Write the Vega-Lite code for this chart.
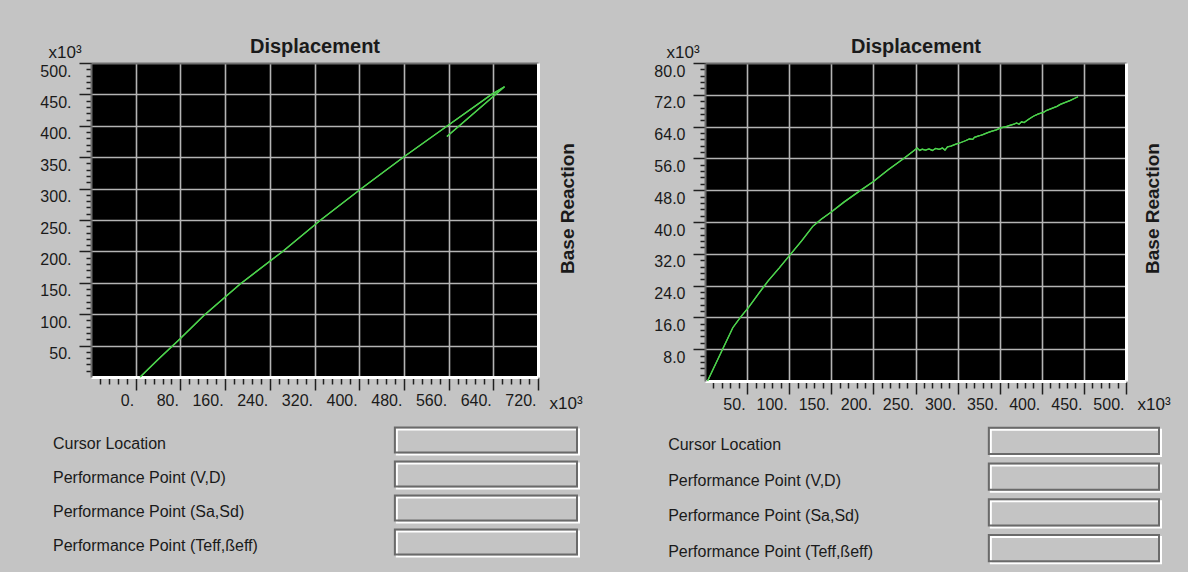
{
  "$schema": "https://vega.github.io/schema/vega-lite/v6.json",
  "background": "#c4c4c4",
  "padding": {"left": 39, "top": 36, "right": 24, "bottom": 5},
  "columns": 2,
  "bounds": "flush",
  "align": "each",
  "spacing": {"row": 43, "column": 127},
  "config": {
    "view": {"stroke": null},
    "font": "Liberation Sans",
    "axis": {
      "labelFont": "Liberation Sans",
      "labelFontSize": 16,
      "labelColor": "#1a1a1a",
      "titleFont": "Liberation Sans",
      "titleColor": "#1a1a1a",
      "labelOverlap": false,
      "labelFlush": false,
      "tickColor": "#202020",
      "tickWidth": 1.5,
      "gridColor": "#b4b4b4",
      "gridWidth": 1.6
    }
  },
  "concat": [
    {
      "width": 447,
      "height": 314,
      "view": {"fill": "#000000", "stroke": null},
      "data": {"values": [
        {"step": 0, "disp": 8, "base": 0},
        {"step": 1, "disp": 40, "base": 28},
        {"step": 2, "disp": 79, "base": 60.5},
        {"step": 3, "disp": 122, "base": 98},
        {"step": 4, "disp": 187, "base": 148},
        {"step": 5, "disp": 263, "base": 200},
        {"step": 6, "disp": 331, "base": 250},
        {"step": 7, "disp": 404, "base": 300},
        {"step": 8, "disp": 479, "base": 350},
        {"step": 9, "disp": 558, "base": 400},
        {"step": 10, "disp": 637, "base": 450},
        {"step": 11, "disp": 660, "base": 462},
        {"step": 12, "disp": 557, "base": 383}
      ]},
      "layer": [
        {
          "mark": {"type": "line", "color": "#4cd04c", "strokeWidth": 1.3},
          "encoding": {
            "x": {"field": "disp", "type": "quantitative", "scale": {"domain": [-80, 720], "nice": false, "zero": false},
              "axis": {
                "orient": "bottom",
                "values": [-64,-48,-32,-16,0,16,32,48,64,80,96,112,128,144,160,176,192,208,224,240,256,272,288,304,320,336,352,368,384,400,416,432,448,464,480,496,512,528,544,560,576,592,608,624,640,656,672,688,704,720],
                "labelExpr": "datum.value % 80 === 0 ? datum.value + '.' : ''",
                "labelAlign": "right", "labelBaseline": "top", "labelOffset": -2, "labelPadding": 2,
                "tickSize": {"condition": {"test": "datum.value % 80 === 0", "value": 13}, "value": 7},
                "domain": true, "domainColor": "#ffffff", "domainWidth": 3,
                "grid": true,
                "gridOpacity": {"condition": {"test": "datum.value % 80 === 0 && datum.value < 720", "value": 1}, "value": 0},
                "title": "x10³", "titleFontSize": 17, "titleFontWeight": "normal", "titleAngle": 0,
                "titleX": 458, "titleY": 31, "titleAlign": "left", "titleBaseline": "alphabetic"
              }},
            "y": {"field": "base", "type": "quantitative", "scale": {"domain": [0, 500], "nice": false},
              "axis": {
                "orient": "left",
                "values": [10,20,30,40,50,60,70,80,90,100,110,120,130,140,150,160,170,180,190,200,210,220,230,240,250,260,270,280,290,300,310,320,330,340,350,360,370,380,390,400,410,420,430,440,450,460,470,480,490,500],
                "labelExpr": "datum.value % 50 === 0 ? datum.value + '.' : ''",
                "labelAlign": "right", "labelBaseline": "top", "labelPadding": 8,
                "tickSize": {"condition": {"test": "datum.value % 50 === 0", "value": 12}, "value": 5},
                "domain": true, "domainColor": "#6e6e6e", "domainWidth": 2,
                "grid": true,
                "gridOpacity": {"condition": {"test": "datum.value % 50 === 0 && datum.value < 500", "value": 1}, "value": 0},
                "title": "x10³", "titleFontSize": 17, "titleFontWeight": "normal", "titleAngle": 0,
                "titleX": -43, "titleY": -6, "titleAlign": "left", "titleBaseline": "alphabetic"
              }},
            "order": {"field": "step", "type": "quantitative"}
          }
        },
        {
          "mark": {"type": "line", "color": "#4cd04c", "strokeWidth": 1.3},
          "encoding": {
            "x": {"field": "disp", "type": "quantitative", "scale": {"domain": [-80, 720], "nice": false, "zero": false},
              "axis": {
                "orient": "top", "labels": false, "ticks": false, "grid": false,
                "domain": true, "domainColor": "#6e6e6e", "domainWidth": 2,
                "title": "Displacement", "titleFontSize": 20, "titleFontWeight": "bold",
                "titleY": -11, "titleBaseline": "alphabetic"
              }},
            "y": {"field": "base", "type": "quantitative", "scale": {"domain": [0, 500], "nice": false},
              "axis": {
                "orient": "right", "labels": false, "ticks": false, "grid": false,
                "domain": true, "domainColor": "#ffffff", "domainWidth": 3,
                "title": "Base Reaction", "titleFontSize": 19, "titleFontWeight": "bold",
                "titleAngle": 270, "titleX": 35, "titleY": 145, "titleAlign": "center", "titleBaseline": "alphabetic"
              }},
            "order": {"field": "step", "type": "quantitative"}
          }
        }
      ],
      "resolve": {"axis": {"x": "independent", "y": "independent"}}
    },
    {
      "width": 421,
      "height": 318,
      "view": {"fill": "#000000", "stroke": null},
      "data": {"values": [
        {"step": 0, "disp": 3, "base": 0},
        {"step": 1, "disp": 33, "base": 13.4},
        {"step": 2, "disp": 42, "base": 16},
        {"step": 3, "disp": 52, "base": 18.6},
        {"step": 4, "disp": 63, "base": 21.8},
        {"step": 5, "disp": 75, "base": 25.2},
        {"step": 6, "disp": 88, "base": 28.4},
        {"step": 7, "disp": 100, "base": 31.5},
        {"step": 8, "disp": 115, "base": 35.3},
        {"step": 9, "disp": 128, "base": 38.9},
        {"step": 10, "disp": 138, "base": 40.7},
        {"step": 11, "disp": 150, "base": 42.5},
        {"step": 12, "disp": 165, "base": 45},
        {"step": 13, "disp": 183, "base": 47.7},
        {"step": 14, "disp": 200, "base": 50.2},
        {"step": 15, "disp": 218, "base": 53.2},
        {"step": 16, "disp": 236, "base": 56},
        {"step": 17, "disp": 246, "base": 57.6},
        {"step": 18, "disp": 252, "base": 58.6},
        {"step": 19, "disp": 255, "base": 58.0},
        {"step": 20, "disp": 258, "base": 58.3},
        {"step": 21, "disp": 262, "base": 58.1},
        {"step": 22, "disp": 266, "base": 58.4},
        {"step": 23, "disp": 270, "base": 58.0},
        {"step": 24, "disp": 274, "base": 58.5},
        {"step": 25, "disp": 278, "base": 58.3},
        {"step": 26, "disp": 282, "base": 58.6},
        {"step": 27, "disp": 285, "base": 58.1},
        {"step": 28, "disp": 288, "base": 58.9},
        {"step": 29, "disp": 292, "base": 59.1},
        {"step": 30, "disp": 298, "base": 59.6},
        {"step": 31, "disp": 304, "base": 60.0},
        {"step": 32, "disp": 310, "base": 60.5},
        {"step": 33, "disp": 314, "base": 60.9},
        {"step": 34, "disp": 318, "base": 60.8},
        {"step": 35, "disp": 320, "base": 61.3},
        {"step": 36, "disp": 326, "base": 61.7},
        {"step": 37, "disp": 330, "base": 62.0},
        {"step": 38, "disp": 335, "base": 62.4},
        {"step": 39, "disp": 340, "base": 62.8},
        {"step": 40, "disp": 346, "base": 63.2},
        {"step": 41, "disp": 351, "base": 63.7},
        {"step": 42, "disp": 356, "base": 63.9},
        {"step": 43, "disp": 362, "base": 64.3},
        {"step": 44, "disp": 367, "base": 64.6},
        {"step": 45, "disp": 370, "base": 64.9},
        {"step": 46, "disp": 373, "base": 64.6},
        {"step": 47, "disp": 376, "base": 65.2},
        {"step": 48, "disp": 379, "base": 65.0},
        {"step": 49, "disp": 384, "base": 65.8},
        {"step": 50, "disp": 390, "base": 66.6},
        {"step": 51, "disp": 396, "base": 67.2},
        {"step": 52, "disp": 402, "base": 67.6},
        {"step": 53, "disp": 406, "base": 68.1},
        {"step": 54, "disp": 412, "base": 68.6},
        {"step": 55, "disp": 418, "base": 69.1},
        {"step": 56, "disp": 422, "base": 69.6},
        {"step": 57, "disp": 428, "base": 70.1},
        {"step": 58, "disp": 434, "base": 70.6},
        {"step": 59, "disp": 438, "base": 71.0},
        {"step": 60, "disp": 443, "base": 71.5}
      ]},
      "layer": [
        {
          "mark": {"type": "line", "color": "#4cd04c", "strokeWidth": 1.3},
          "encoding": {
            "x": {"field": "disp", "type": "quantitative", "scale": {"domain": [0, 500], "nice": false, "zero": false},
              "axis": {
                "orient": "bottom",
                "values": [10,20,30,40,50,60,70,80,90,100,110,120,130,140,150,160,170,180,190,200,210,220,230,240,250,260,270,280,290,300,310,320,330,340,350,360,370,380,390,400,410,420,430,440,450,460,470,480,490,500],
                "labelExpr": "datum.value % 50 === 0 ? datum.value + '.' : ''",
                "labelAlign": "right", "labelBaseline": "top", "labelOffset": -2, "labelPadding": 2,
                "tickSize": {"condition": {"test": "datum.value % 50 === 0", "value": 13}, "value": 7},
                "domain": true, "domainColor": "#ffffff", "domainWidth": 3,
                "grid": true,
                "gridOpacity": {"condition": {"test": "datum.value % 50 === 0 && datum.value < 500", "value": 1}, "value": 0},
                "title": "x10³", "titleFontSize": 17, "titleFontWeight": "normal", "titleAngle": 0,
                "titleX": 432, "titleY": 28, "titleAlign": "left", "titleBaseline": "alphabetic"
              }},
            "y": {"field": "base", "type": "quantitative", "scale": {"domain": [0, 80], "nice": false},
              "axis": {
                "orient": "left",
                "values": [1.6,3.2,4.8,6.4,8,9.6,11.2,12.8,14.4,16,17.6,19.2,20.8,22.4,24,25.6,27.2,28.8,30.4,32,33.6,35.2,36.8,38.4,40,41.6,43.2,44.8,46.4,48,49.6,51.2,52.8,54.4,56,57.6,59.2,60.8,62.4,64,65.6,67.2,68.8,70.4,72,73.6,75.2,76.8,78.4,80],
                "labelExpr": "datum.value % 8 === 0 ? format(datum.value, '.1f') : ''",
                "labelAlign": "right", "labelBaseline": "top", "labelPadding": 8,
                "tickSize": {"condition": {"test": "datum.value % 8 === 0", "value": 12}, "value": 5},
                "domain": true, "domainColor": "#6e6e6e", "domainWidth": 2,
                "grid": true,
                "gridOpacity": {"condition": {"test": "datum.value % 8 === 0 && datum.value < 80", "value": 1}, "value": 0},
                "title": "x10³", "titleFontSize": 17, "titleFontWeight": "normal", "titleAngle": 0,
                "titleX": -39, "titleY": -6, "titleAlign": "left", "titleBaseline": "alphabetic"
              }},
            "order": {"field": "step", "type": "quantitative"}
          }
        },
        {
          "mark": {"type": "line", "color": "#4cd04c", "strokeWidth": 1.3},
          "encoding": {
            "x": {"field": "disp", "type": "quantitative", "scale": {"domain": [0, 500], "nice": false, "zero": false},
              "axis": {
                "orient": "top", "labels": false, "ticks": false, "grid": false,
                "domain": true, "domainColor": "#6e6e6e", "domainWidth": 2,
                "title": "Displacement", "titleFontSize": 20, "titleFontWeight": "bold",
                "titleY": -11, "titleBaseline": "alphabetic"
              }},
            "y": {"field": "base", "type": "quantitative", "scale": {"domain": [0, 80], "nice": false},
              "axis": {
                "orient": "right", "labels": false, "ticks": false, "grid": false,
                "domain": true, "domainColor": "#ffffff", "domainWidth": 3,
                "title": "Base Reaction", "titleFontSize": 19, "titleFontWeight": "bold",
                "titleAngle": 270, "titleX": 32, "titleY": 145, "titleAlign": "center", "titleBaseline": "alphabetic"
              }},
            "order": {"field": "step", "type": "quantitative"}
          }
        }
      ],
      "resolve": {"axis": {"x": "independent", "y": "independent"}}
    },
    {
      "width": 487,
      "height": 136,
      "view": {"stroke": null, "fill": null},
      "data": {"values": [
        {"item": "Cursor Location"},
        {"item": "Performance Point (V,D)"},
        {"item": "Performance Point (Sa,Sd)"},
        {"item": "Performance Point (Teff,ßeff)"}
      ]},
      "encoding": {
        "y": {"field": "item", "type": "nominal", "sort": null, "axis": null, "scale": {"paddingInner": 0.26, "paddingOuter": 0.13}}
      },
      "layer": [
        {
          "mark": {"type": "rect", "fill": "#c4c4c4", "stroke": "#ffffff", "strokeWidth": 2, "xOffset": 1, "yOffset": 1, "x2Offset": 1, "y2Offset": 1},
          "encoding": {
            "x": {"datum": 62.6, "type": "quantitative", "scale": {"domain": [0, 100], "nice": false, "zero": false}, "axis": null},
            "x2": {"datum": 100}
          }
        },
        {
          "mark": {"type": "rect", "fill": null, "stroke": "#6a6a6a", "strokeWidth": 2, "xOffset": -1, "yOffset": -1, "x2Offset": -1, "y2Offset": -1},
          "encoding": {
            "x": {"datum": 62.6, "type": "quantitative"},
            "x2": {"datum": 100}
          }
        },
        {
          "mark": {"type": "text", "align": "left", "dy": 3, "font": "Liberation Sans", "fontSize": 16, "color": "#1a1a1a"},
          "encoding": {
            "x": {"datum": -7.8, "type": "quantitative"},
            "text": {"field": "item", "type": "nominal"}
          }
        }
      ]
    },
    {
      "width": 455,
      "height": 143,
      "view": {"stroke": null, "fill": null},
      "data": {"values": [
        {"item": "Cursor Location"},
        {"item": "Performance Point (V,D)"},
        {"item": "Performance Point (Sa,Sd)"},
        {"item": "Performance Point (Teff,ßeff)"}
      ]},
      "encoding": {
        "y": {"field": "item", "type": "nominal", "sort": null, "axis": null, "scale": {"paddingInner": 0.27, "paddingOuter": 0.135}}
      },
      "layer": [
        {
          "mark": {"type": "rect", "fill": "#c4c4c4", "stroke": "#ffffff", "strokeWidth": 2, "xOffset": 1, "yOffset": 1, "x2Offset": 1, "y2Offset": 1},
          "encoding": {
            "x": {"datum": 62.6, "type": "quantitative", "scale": {"domain": [0, 100], "nice": false, "zero": false}, "axis": null},
            "x2": {"datum": 100}
          }
        },
        {
          "mark": {"type": "rect", "fill": null, "stroke": "#6a6a6a", "strokeWidth": 2, "xOffset": -1, "yOffset": -1, "x2Offset": -1, "y2Offset": -1},
          "encoding": {
            "x": {"datum": 62.6, "type": "quantitative"},
            "x2": {"datum": 100}
          }
        },
        {
          "mark": {"type": "text", "align": "left", "dy": 3, "font": "Liberation Sans", "fontSize": 16, "color": "#1a1a1a"},
          "encoding": {
            "x": {"datum": -8.1, "type": "quantitative"},
            "text": {"field": "item", "type": "nominal"}
          }
        }
      ]
    }
  ]
}
